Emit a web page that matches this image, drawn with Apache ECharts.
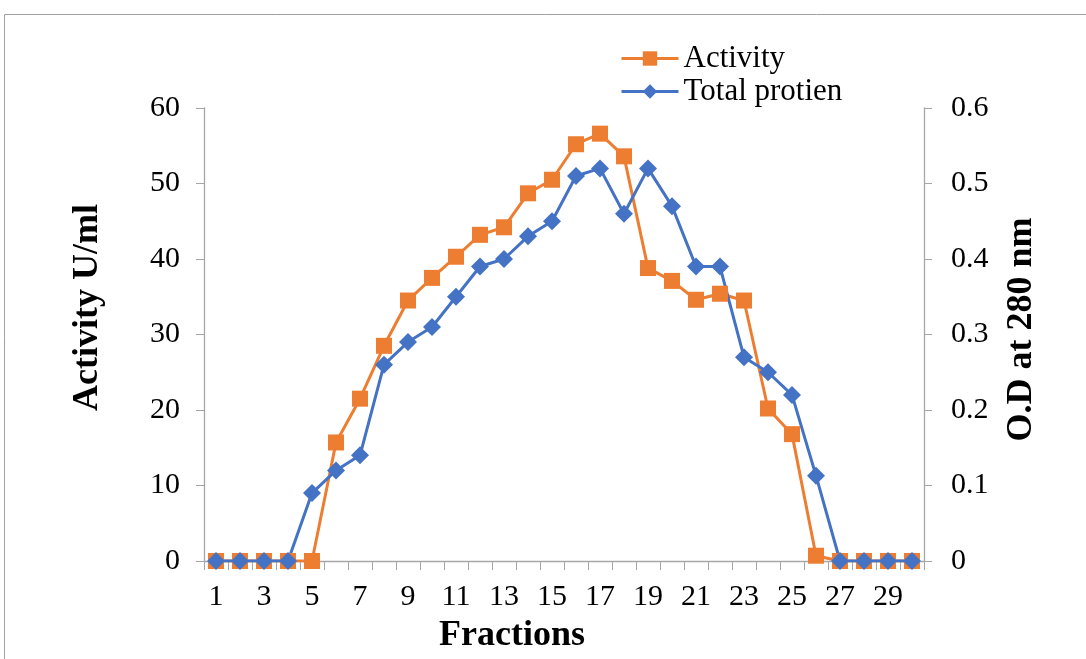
<!DOCTYPE html>
<html>
<head>
<meta charset="utf-8">
<script src="https://cdn.jsdelivr.net/npm/echarts@6/dist/echarts.min.js"></script>
<style>
  html, body { margin: 0; padding: 0; background: #fff; }
  #chart { width: 1086px; height: 659px; }
</style>
</head>
<body>
<div id="chart"></div>
<script>
// Fraction numbers collected from the column
const fractions = Array.from({ length: 30 }, (_, i) => String(i + 1));

// Enzyme activity (U/ml) per fraction
const activity = [0, 0, 0, 0, 0, 15.7, 21.5, 28.5, 34.5, 37.5,
                  40.3, 43.2, 44.2, 48.7, 50.5, 55.2, 56.6, 53.6, 38.8, 37.1,
                  34.6, 35.4, 34.5, 20.2, 16.8, 0.7, 0, 0, 0, 0];

// Total protein, absorbance at 280 nm per fraction
const protein = [0, 0, 0, 0, 0.09, 0.12, 0.14, 0.26, 0.29, 0.31,
                 0.35, 0.39, 0.40, 0.43, 0.45, 0.51, 0.52, 0.46, 0.52, 0.47,
                 0.39, 0.39, 0.27, 0.25, 0.22, 0.113, 0, 0, 0, 0];

const FONT = '"Liberation Serif", "Times New Roman", serif';
const AXIS_GRAY = '#A6A6A6';
const ORANGE = '#ED7D31';
const BLUE = '#4472C4';

const chart = echarts.init(document.getElementById('chart'));
chart.setOption({
  animation: false,
  backgroundColor: '#fff',
  textStyle: { fontFamily: FONT, color: '#000' },
  graphic: [{
    type: 'rect',
    shape: { x: 4.5, y: 14.5, width: 1200, height: 800 },
    style: { fill: 'none', stroke: '#A0A0A0', lineWidth: 1 },
    silent: true
  }],
  legend: {
    orient: 'vertical',
    left: 615,
    top: 38,
    itemWidth: 57,
    itemHeight: 18,
    itemGap: 2,
    lineStyle: { width: 3 },
    textStyle: { fontFamily: FONT, fontSize: 31, color: '#000' },
    data: ['Activity', 'Total protien']
  },
  grid: { left: 204, right: 162, top: 108, bottom: 97, containLabel: false },
  xAxis: {
    type: 'category',
    data: fractions,
    boundaryGap: true,
    name: 'Fractions',
    nameLocation: 'middle',
    nameGap: 57,
    nameTextStyle: { fontFamily: FONT, fontSize: 36, fontWeight: 'bold', color: '#000', padding: [0, 104, 0, 0] },
    axisLine: { lineStyle: { color: AXIS_GRAY, width: 1.3 } },
    axisTick: { show: true, length: 9, interval: 0, alignWithLabel: false, lineStyle: { color: AXIS_GRAY } },
    axisLabel: { interval: 1, fontFamily: FONT, fontSize: 30, color: '#000', margin: 21 },
    splitLine: { show: false }
  },
  yAxis: [{
    type: 'value',
    min: 0, max: 60, interval: 10,
    position: 'left',
    name: 'Activity U/ml',
    nameLocation: 'middle',
    nameRotate: 90,
    nameGap: 98,
    nameTextStyle: { fontFamily: FONT, fontSize: 36, fontWeight: 'bold', color: '#000', padding: [0, 0, 0, 54] },
    axisLine: { show: true, lineStyle: { color: AXIS_GRAY, width: 1.3 } },
    axisTick: { show: true, length: 8, lineStyle: { color: AXIS_GRAY } },
    axisLabel: { fontFamily: FONT, fontSize: 30, color: '#000', margin: 24 },
    splitLine: { show: false }
  }, {
    type: 'value',
    min: 0, max: 0.6, interval: 0.1,
    position: 'right',
    name: 'O.D at 280 nm',
    nameLocation: 'middle',
    nameRotate: 90,
    nameGap: 80,
    nameTextStyle: { fontFamily: FONT, fontSize: 36, fontWeight: 'bold', color: '#000', padding: [0, 0, 0, 10] },
    axisLine: { show: true, lineStyle: { color: AXIS_GRAY, width: 1.3 } },
    axisTick: { show: true, length: 8, lineStyle: { color: AXIS_GRAY } },
    axisLabel: { fontFamily: FONT, fontSize: 30, color: '#000', margin: 27 },
    splitLine: { show: false }
  }],
  series: [{
    name: 'Activity',
    type: 'line',
    yAxisIndex: 0,
    data: activity,
    symbol: 'rect',
    symbolSize: 16,
    showAllSymbol: true,
    color: ORANGE,
    lineStyle: { width: 3, color: ORANGE },
    itemStyle: { color: ORANGE }
  }, {
    name: 'Total protien',
    type: 'line',
    yAxisIndex: 1,
    data: protein,
    symbol: 'diamond',
    symbolSize: [18, 18],
    showAllSymbol: true,
    color: BLUE,
    lineStyle: { width: 3, color: BLUE },
    itemStyle: { color: BLUE },
    z: 3
  }]
});
</script>
</body>
</html>
